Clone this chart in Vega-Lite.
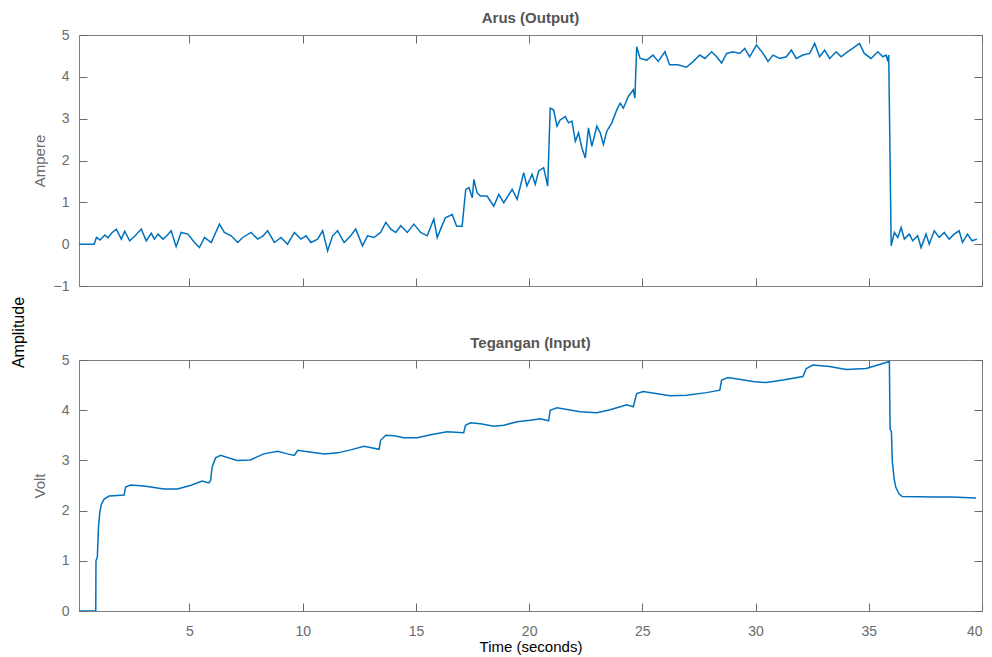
{
  "$schema": "https://vega.github.io/schema/vega-lite/v6.json",
  "padding": {"left": 10, "top": 10, "right": 11, "bottom": 0},
  "config": {
    "font": "Liberation Sans",
    "view": {"stroke": "#808080", "strokeWidth": 1},
    "axis": {
      "grid": false,
      "domain": false,
      "tickColor": "#6a6a6a",
      "tickSize": 8,
      "offset": -8,
      "labelFontSize": 14,
      "labelColor": "#6b6b6b",
      "labelFont": "Liberation Sans",
      "titleFont": "Liberation Sans",
      "titleFontWeight": "normal",
      "titleFontSize": 15
    },
    "title": {"font": "Liberation Sans"}
  },
  "title": {"text": "Amplitude", "orient": "left", "anchor": "middle", "fontSize": 16, "fontWeight": "normal", "color": "#000000", "offset": 5},
  "spacing": 41,
  "datasets": {
    "arus": [
      {"t":0.12,"v":0},{"t":0.79,"v":0},{"t":0.89,"v":0.16},{"t":1.05,"v":0.1},{"t":1.26,"v":0.22},{"t":1.4,"v":0.15},{"t":1.55,"v":0.26},{"t":1.77,"v":0.36},{"t":1.99,"v":0.12},{"t":2.14,"v":0.31},{"t":2.36,"v":0.08},{"t":2.6,"v":0.2},{"t":2.87,"v":0.36},{"t":3.09,"v":0.08},{"t":3.31,"v":0.26},{"t":3.45,"v":0.12},{"t":3.61,"v":0.24},{"t":3.83,"v":0.12},{"t":4.0,"v":0.2},{"t":4.19,"v":0.32},{"t":4.41,"v":-0.06},{"t":4.63,"v":0.28},{"t":4.93,"v":0.24},{"t":5.22,"v":0.04},{"t":5.44,"v":-0.08},{"t":5.66,"v":0.16},{"t":5.96,"v":0.04},{"t":6.32,"v":0.48},{"t":6.54,"v":0.28},{"t":6.84,"v":0.2},{"t":7.13,"v":0.04},{"t":7.35,"v":0.16},{"t":7.72,"v":0.28},{"t":8.01,"v":0.12},{"t":8.25,"v":0.2},{"t":8.45,"v":0.32},{"t":8.75,"v":0.04},{"t":9.04,"v":0.16},{"t":9.33,"v":0.0},{"t":9.63,"v":0.28},{"t":9.92,"v":0.12},{"t":10.15,"v":0.2},{"t":10.36,"v":0.04},{"t":10.66,"v":0.12},{"t":10.88,"v":0.32},{"t":11.1,"v":-0.16},{"t":11.32,"v":0.2},{"t":11.54,"v":0.32},{"t":11.83,"v":0.04},{"t":12.12,"v":0.2},{"t":12.34,"v":0.36},{"t":12.64,"v":-0.04},{"t":12.86,"v":0.2},{"t":13.15,"v":0.16},{"t":13.44,"v":0.28},{"t":13.67,"v":0.52},{"t":13.89,"v":0.36},{"t":14.11,"v":0.28},{"t":14.33,"v":0.44},{"t":14.62,"v":0.28},{"t":14.91,"v":0.48},{"t":15.21,"v":0.28},{"t":15.5,"v":0.2},{"t":15.79,"v":0.6},{"t":15.94,"v":0.16},{"t":16.09,"v":0.36},{"t":16.3,"v":0.63},{"t":16.6,"v":0.71},{"t":16.8,"v":0.43},{"t":17.04,"v":0.43},{"t":17.2,"v":1.31},{"t":17.34,"v":1.35},{"t":17.49,"v":1.11},{"t":17.56,"v":1.55},{"t":17.7,"v":1.23},{"t":17.85,"v":1.15},{"t":18.14,"v":1.15},{"t":18.44,"v":0.91},{"t":18.66,"v":1.19},{"t":18.88,"v":0.99},{"t":19.25,"v":1.31},{"t":19.47,"v":1.07},{"t":19.76,"v":1.71},{"t":19.9,"v":1.39},{"t":20.13,"v":1.67},{"t":20.27,"v":1.43},{"t":20.42,"v":1.75},{"t":20.64,"v":1.83},{"t":20.82,"v":1.39},{"t":20.93,"v":3.25},{"t":21.08,"v":3.21},{"t":21.23,"v":2.82},{"t":21.37,"v":2.97},{"t":21.6,"v":3.05},{"t":21.74,"v":2.9},{"t":21.89,"v":2.94},{"t":22.04,"v":2.46},{"t":22.18,"v":2.66},{"t":22.33,"v":2.3},{"t":22.48,"v":2.06},{"t":22.62,"v":2.78},{"t":22.77,"v":2.34},{"t":22.99,"v":2.82},{"t":23.14,"v":2.66},{"t":23.28,"v":2.38},{"t":23.43,"v":2.7},{"t":23.65,"v":2.9},{"t":23.87,"v":3.21},{"t":24.02,"v":3.37},{"t":24.16,"v":3.25},{"t":24.38,"v":3.53},{"t":24.6,"v":3.69},{"t":24.67,"v":3.49},{"t":24.75,"v":4.72},{"t":24.9,"v":4.44},{"t":25.19,"v":4.4},{"t":25.47,"v":4.52},{"t":25.7,"v":4.37},{"t":26.0,"v":4.6},{"t":26.2,"v":4.29},{"t":26.57,"v":4.29},{"t":26.95,"v":4.23},{"t":27.25,"v":4.37},{"t":27.54,"v":4.52},{"t":27.76,"v":4.44},{"t":28.06,"v":4.6},{"t":28.28,"v":4.48},{"t":28.5,"v":4.33},{"t":28.72,"v":4.56},{"t":29.0,"v":4.6},{"t":29.3,"v":4.56},{"t":29.52,"v":4.68},{"t":29.74,"v":4.48},{"t":30.04,"v":4.76},{"t":30.33,"v":4.56},{"t":30.55,"v":4.37},{"t":30.77,"v":4.52},{"t":31.07,"v":4.44},{"t":31.36,"v":4.48},{"t":31.58,"v":4.64},{"t":31.8,"v":4.44},{"t":32.09,"v":4.52},{"t":32.39,"v":4.56},{"t":32.61,"v":4.8},{"t":32.83,"v":4.48},{"t":33.05,"v":4.64},{"t":33.27,"v":4.44},{"t":33.56,"v":4.6},{"t":33.78,"v":4.48},{"t":34.07,"v":4.6},{"t":34.29,"v":4.68},{"t":34.59,"v":4.8},{"t":34.8,"v":4.56},{"t":35.1,"v":4.44},{"t":35.4,"v":4.6},{"t":35.62,"v":4.48},{"t":35.77,"v":4.52},{"t":35.84,"v":4.37},{"t":35.88,"v":4.52},{"t":35.99,"v":-0.04},{"t":36.13,"v":0.28},{"t":36.28,"v":0.16},{"t":36.43,"v":0.4},{"t":36.57,"v":0.12},{"t":36.79,"v":0.24},{"t":36.94,"v":0.08},{"t":37.16,"v":0.2},{"t":37.31,"v":-0.08},{"t":37.53,"v":0.24},{"t":37.67,"v":0.0},{"t":37.89,"v":0.32},{"t":38.11,"v":0.16},{"t":38.33,"v":0.28},{"t":38.55,"v":0.12},{"t":38.77,"v":0.24},{"t":38.99,"v":0.32},{"t":39.14,"v":0.04},{"t":39.36,"v":0.24},{"t":39.56,"v":0.08},{"t":39.78,"v":0.12}
    ],
    "tegangan": [
      {"t":0.12,"v":0},{"t":0.86,"v":0},{"t":0.87,"v":1.0},{"t":0.93,"v":1.07},{"t":0.98,"v":1.67},{"t":1.04,"v":1.97},{"t":1.11,"v":2.13},{"t":1.23,"v":2.23},{"t":1.45,"v":2.29},{"t":2.11,"v":2.31},{"t":2.18,"v":2.47},{"t":2.4,"v":2.51},{"t":2.99,"v":2.49},{"t":3.87,"v":2.43},{"t":4.46,"v":2.43},{"t":5.04,"v":2.5},{"t":5.56,"v":2.59},{"t":5.85,"v":2.55},{"t":5.93,"v":2.6},{"t":6.0,"v":2.87},{"t":6.15,"v":3.05},{"t":6.37,"v":3.1},{"t":7.1,"v":3.0},{"t":7.69,"v":3.01},{"t":8.28,"v":3.13},{"t":8.9,"v":3.18},{"t":9.33,"v":3.13},{"t":9.63,"v":3.1},{"t":9.78,"v":3.2},{"t":10.07,"v":3.18},{"t":10.95,"v":3.13},{"t":11.54,"v":3.15},{"t":12.12,"v":3.21},{"t":12.71,"v":3.28},{"t":13.37,"v":3.22},{"t":13.44,"v":3.4},{"t":13.67,"v":3.5},{"t":14.03,"v":3.49},{"t":14.47,"v":3.45},{"t":15.06,"v":3.45},{"t":15.65,"v":3.51},{"t":16.38,"v":3.57},{"t":17.11,"v":3.55},{"t":17.19,"v":3.7},{"t":17.41,"v":3.75},{"t":17.85,"v":3.73},{"t":18.44,"v":3.68},{"t":18.88,"v":3.7},{"t":19.47,"v":3.77},{"t":20.05,"v":3.8},{"t":20.49,"v":3.83},{"t":20.86,"v":3.79},{"t":20.93,"v":4.0},{"t":21.23,"v":4.05},{"t":22.25,"v":3.97},{"t":22.99,"v":3.95},{"t":23.58,"v":4.01},{"t":24.31,"v":4.11},{"t":24.6,"v":4.07},{"t":24.75,"v":4.33},{"t":25.04,"v":4.37},{"t":26.22,"v":4.29},{"t":26.95,"v":4.3},{"t":27.84,"v":4.35},{"t":28.42,"v":4.4},{"t":28.5,"v":4.6},{"t":28.79,"v":4.65},{"t":29.89,"v":4.57},{"t":30.48,"v":4.55},{"t":31.21,"v":4.6},{"t":32.09,"v":4.67},{"t":32.24,"v":4.83},{"t":32.53,"v":4.9},{"t":33.27,"v":4.87},{"t":34.0,"v":4.81},{"t":34.88,"v":4.83},{"t":35.47,"v":4.91},{"t":35.91,"v":4.97},{"t":35.94,"v":3.63},{"t":36.0,"v":3.57},{"t":36.04,"v":2.97},{"t":36.12,"v":2.63},{"t":36.19,"v":2.47},{"t":36.34,"v":2.33},{"t":36.48,"v":2.28},{"t":37.95,"v":2.27},{"t":38.68,"v":2.27},{"t":39.74,"v":2.25}
    ]
  },
  "vconcat": [
    {
      "width": 903,
      "height": 251,
      "title": {"text": "Arus (Output)", "fontSize": 15, "fontWeight": "bold", "color": "#555555", "anchor": "middle", "offset": 2},
      "data": {"name": "arus"},
      "resolve": {"axis": {"x": "independent", "y": "independent"}},
      "layer": [
        {
          "mark": {"type": "line", "color": "#0072BD", "strokeWidth": 1.5, "clip": true},
          "encoding": {
            "x": {"field": "t", "type": "quantitative", "scale": {"domain": [0.12, 40], "nice": false, "zero": false},
                  "axis": {"orient": "bottom", "values": [5,10,15,20,25,30,35,40], "labels": false, "title": null}},
            "y": {"field": "v", "type": "quantitative", "scale": {"domain": [-1, 5], "nice": false},
                  "axis": {"orient": "left", "values": [-1,0,1,2,3,4,5], "title": "Ampere", "titleColor": "#6b6b6b", "titleX": -40, "labelPadding": 10}}
          }
        },
        {
          "mark": {"type": "line", "opacity": 0},
          "encoding": {
            "x": {"field": "t", "type": "quantitative", "axis": {"orient": "top", "values": [5,10,15,20,25,30,35,40], "labels": false, "title": null}},
            "y": {"field": "v", "type": "quantitative", "axis": {"orient": "right", "values": [-1,0,1,2,3,4,5], "labels": false, "title": null}}
          }
        }
      ]
    },
    {
      "width": 903,
      "height": 251,
      "title": {"text": "Tegangan (Input)", "fontSize": 15, "fontWeight": "bold", "color": "#555555", "anchor": "middle", "offset": 2},
      "data": {"name": "tegangan"},
      "resolve": {"axis": {"x": "independent", "y": "independent"}},
      "layer": [
        {
          "mark": {"type": "line", "color": "#0072BD", "strokeWidth": 1.5, "clip": true},
          "encoding": {
            "x": {"field": "t", "type": "quantitative", "scale": {"domain": [0.12, 40], "nice": false, "zero": false},
                  "axis": {"orient": "bottom", "values": [5,10,15,20,25,30,35,40], "title": "Time (seconds)", "titleColor": "#000000", "labelPadding": 13, "titlePadding": 1}},
            "y": {"field": "v", "type": "quantitative", "scale": {"domain": [0, 5], "nice": false},
                  "axis": {"orient": "left", "values": [0,1,2,3,4,5], "title": "Volt", "titleColor": "#6b6b6b", "titleX": -40, "labelPadding": 10}}
          }
        },
        {
          "mark": {"type": "line", "opacity": 0},
          "encoding": {
            "x": {"field": "t", "type": "quantitative", "axis": {"orient": "top", "values": [5,10,15,20,25,30,35,40], "labels": false, "title": null}},
            "y": {"field": "v", "type": "quantitative", "axis": {"orient": "right", "values": [0,1,2,3,4,5], "labels": false, "title": null}}
          }
        }
      ]
    }
  ]
}
